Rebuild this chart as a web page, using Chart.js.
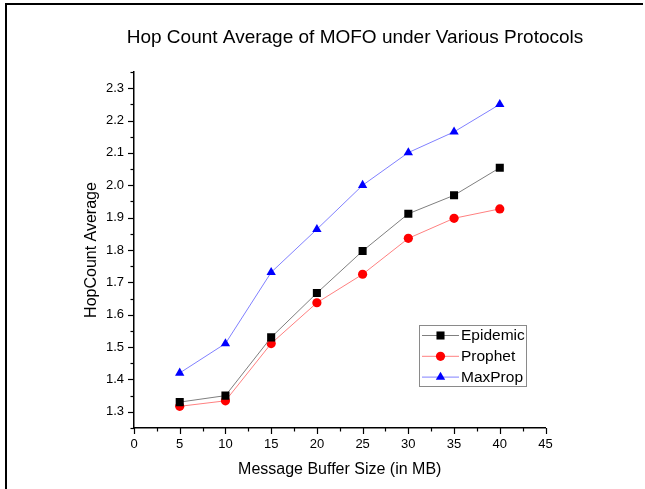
<!DOCTYPE html>
<html>
<head>
<meta charset="utf-8">
<script src="https://cdn.jsdelivr.net/npm/chart.js@4/dist/chart.umd.min.js"></script>
<style>
  html, body { margin: 0; padding: 0; background: #fff; }
  #wrap { position: relative; width: 645px; height: 489px; overflow: hidden; }
  #frame { position: absolute; left: 5px; top: 3px; width: 636px; height: 490px;
           border-left: 2px solid #000; border-top: 2px solid #000; pointer-events: none; }
  canvas { position: absolute; left: 0; top: 0; }
</style>
</head>
<body>
<div id="wrap">
  <canvas id="c" width="645" height="489"></canvas>
  <div id="frame"></div>
</div>
<script>
const titleText = 'Hop Count Average of MOFO under Various Protocols';
const xTitle = 'Message Buffer Size (in MB)';
const yTitle = 'HopCount Average';
const bufferSizes = [5, 10, 15, 20, 25, 30, 35, 40];
const seriesNames = ['Epidemic', 'Prophet', 'MaxProp'];
const epidemic = [1.33, 1.35, 1.53, 1.667, 1.797, 1.912, 1.969, 2.054];
const prophet  = [1.317, 1.334, 1.511, 1.637, 1.725, 1.836, 1.898, 1.927];
const maxprop  = [1.42, 1.511, 1.731, 1.864, 2.0, 2.101, 2.165, 2.25];
const xMin = 0, xMax = 45, xStep = 2.5;
const yMin = 1.25, yMax = 2.35, yStep = 0.05;

const FONT = '"Liberation Sans", Arial, Helvetica, sans-serif';

function pts(arr) { return bufferSizes.map((x, i) => ({ x: x, y: arr[i] })); }

const styles = [
  { line: '#7f7f7f', fill: '#000000', shape: 'rect', r: 5.7 },
  { line: '#ff8080', fill: '#ff0000', shape: 'circle', r: 4.6 },
  { line: '#8080ff', fill: '#0000ff', shape: 'triangle', r: 5.4 }
];
const values = [epidemic, prophet, maxprop];

const datasets = seriesNames.map((n, i) => ({
  label: n,
  data: pts(values[i]),
  borderColor: styles[i].line,
  borderWidth: 1,
  pointStyle: styles[i].shape,
  pointRadius: styles[i].r,
  pointHoverRadius: styles[i].r,
  pointBackgroundColor: styles[i].fill,
  pointBorderColor: styles[i].fill,
  pointBorderWidth: 0,
  tension: 0,
  fill: false
}));

function drawMarker(ctx, shape, r, x, y, color) {
  ctx.save();
  ctx.fillStyle = color;
  ctx.beginPath();
  if (shape === 'rect') {
    const s = Math.SQRT1_2 * r;
    ctx.rect(x - s, y - s, 2 * s, 2 * s);
  } else if (shape === 'circle') {
    ctx.arc(x, y, r, 0, Math.PI * 2);
  } else {
    let a = 0;
    ctx.moveTo(x + Math.sin(a) * r, y - Math.cos(a) * r);
    a += 2 * Math.PI / 3;
    ctx.lineTo(x + Math.sin(a) * r, y - Math.cos(a) * r);
    a += 2 * Math.PI / 3;
    ctx.lineTo(x + Math.sin(a) * r, y - Math.cos(a) * r);
    ctx.closePath();
  }
  ctx.fill();
  ctx.restore();
}

const extras = {
  id: 'extras',
  afterDraw(chart) {
    const ctx = chart.ctx;
    const xs = chart.scales.x, ys = chart.scales.y;
    const ax = chart.chartArea.left, ay = chart.chartArea.bottom;
    ctx.save();
    // title
    ctx.fillStyle = '#000';
    ctx.font = '19px ' + FONT;
    ctx.textAlign = 'center';
    ctx.textBaseline = 'middle';
    ctx.fillText(titleText, 355, 38);
    // ticks
    ctx.strokeStyle = '#000';
    ctx.lineWidth = 1.2;
    ys.ticks.forEach(t => {
      const v = t.value;
      const major = Math.round(v * 100) % 10 === 0;
      const len = major ? 6 : 3.5;
      const y = Math.round(ys.getPixelForValue(v)) + 0.5;
      ctx.beginPath(); ctx.moveTo(ax - len, y); ctx.lineTo(ax, y); ctx.stroke();
    });
    xs.ticks.forEach(t => {
      const v = t.value;
      const major = Math.round(v * 10) % 50 === 0;
      const len = major ? 6 : 3.5;
      const x = Math.round(xs.getPixelForValue(v)) + 0.5;
      ctx.beginPath(); ctx.moveTo(x, ay); ctx.lineTo(x, ay + len); ctx.stroke();
    });
    // legend
    const bx = 419.5, by = 325.5, bw = 107, bh = 61;
    ctx.strokeStyle = '#8a8a8a';
    ctx.lineWidth = 1;
    ctx.fillStyle = '#fff';
    ctx.fillRect(bx, by, bw, bh);
    ctx.strokeRect(bx, by, bw, bh);
    ctx.font = '15.5px ' + FONT;
    ctx.textBaseline = 'middle';
    ctx.textAlign = 'left';
    chart.data.datasets.forEach((ds, i) => {
      const cy = 335.5 + i * 20.8;
      ctx.strokeStyle = ds.borderColor;
      ctx.lineWidth = 1;
      ctx.beginPath(); ctx.moveTo(422, cy); ctx.lineTo(459, cy); ctx.stroke();
      drawMarker(ctx, ds.pointStyle, ds.pointRadius, 440.5, cy, ds.pointBackgroundColor);
      ctx.fillStyle = '#000';
      ctx.fillText(ds.label, 461, cy + 0.5);
    });
    ctx.restore();
  }
};

new Chart(document.getElementById('c'), {
  type: 'line',
  data: { datasets: datasets },
  plugins: [extras],
  options: {
    responsive: false,
    animation: false,
    events: [],
    layout: { padding: { left: 0, right: 99.5, top: 72, bottom: 0 } },
    plugins: {
      legend: { display: false },
      tooltip: { enabled: false },
      title: { display: false }
    },
    scales: {
      x: {
        type: 'linear',
        min: xMin, max: xMax,
        afterFit(s) { s.height = 61; },
        ticks: {
          stepSize: xStep,
          autoSkip: false,
          maxRotation: 0,
          padding: 3,
          color: '#000',
          font: { family: FONT, size: 13 },
          callback: v => (Math.round(v * 10) % 50 === 0 ? String(Math.round(v)) : '')
        },
        grid: { display: true, drawOnChartArea: false, drawTicks: true, tickLength: 6, tickColor: 'rgba(0,0,0,0)' },
        border: { display: true, color: '#000', width: 1.5 },
        title: {
          display: true, text: xTitle, color: '#000',
          font: { family: FONT, size: 16, lineHeight: 1.2 },
          padding: { top: 0, bottom: 9.4 }
        }
      },
      y: {
        type: 'linear',
        min: yMin, max: yMax,
        afterFit(s) { s.width = 134; },
        ticks: {
          stepSize: yStep,
          autoSkip: false,
          padding: 4,
          color: '#000',
          font: { family: FONT, size: 13 },
          callback: v => (Math.round(v * 100) % 10 === 0 ? v.toFixed(1) : '')
        },
        grid: { display: true, drawOnChartArea: false, drawTicks: true, tickLength: 6, tickColor: 'rgba(0,0,0,0)' },
        border: { display: true, color: '#000', width: 1.5 },
        title: {
          display: true, text: yTitle, color: '#000',
          font: { family: FONT, size: 16, lineHeight: 1.2 },
          padding: { top: 82, bottom: 0 }
        }
      }
    }
  }
});
</script>
</body>
</html>
